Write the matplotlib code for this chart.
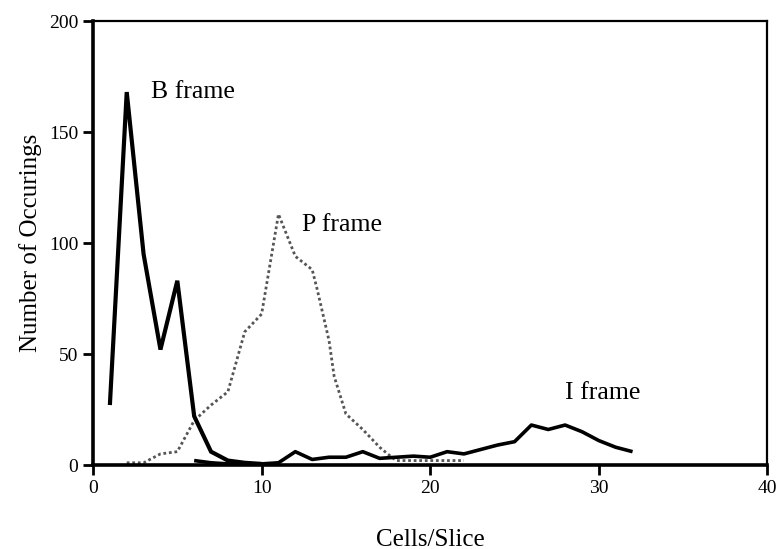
import matplotlib
matplotlib.use("Agg")
import matplotlib.pyplot as plt

plt.rcParams['font.family'] = ['Liberation Serif', 'DejaVu Serif']

# B frame
b_x = [1, 2, 3, 4, 5, 6, 7, 8, 9, 10]
b_y = [27, 168, 95, 52, 83, 22, 6, 2, 1, 0.5]

# P frame
p_x = [2, 3, 4, 5, 6, 7, 8, 9, 10, 11, 12, 13, 13.3, 14, 14.3, 15, 16, 17, 17.7, 18, 19, 20, 21, 22]
p_y = [1, 1, 5, 6, 20, 27, 33, 60, 68, 113, 94, 88, 79, 56, 40, 23, 16, 8, 3.6, 2, 2, 2, 2, 2]

# I frame
i_x = [6, 7, 8, 9, 10, 11, 12, 13, 14, 15, 16, 17, 18, 19, 20, 21, 22, 23, 24, 25, 26, 27, 28, 29, 30, 31, 32]
i_y = [2, 1, 0.5, 0.5, 0.5, 1, 6, 2.5, 3.5, 3.5, 6, 3, 3.5, 4, 3.5, 6, 5, 7, 9, 10.5, 18, 16, 18, 15, 11, 8, 6]

x_ticks = [0, 10, 20, 30, 40]
y_ticks = [0, 50, 100, 150, 200]

fig = plt.figure(figsize=(7.77, 5.49), dpi=100)
ax = fig.add_axes([0.1197, 0.153, 0.868, 0.8087])

ax.plot(p_x, p_y, color='#555555', lw=2.0, linestyle=(0, (1, 1)))
ax.plot(i_x, i_y, color='black', lw=2.6, solid_capstyle='butt')
ax.plot(b_x, b_y, color='black', lw=3.0, solid_capstyle='butt', solid_joinstyle='miter')

ax.set_xlim(0, 40)
ax.set_ylim(0, 200)
ax.set_xticks(x_ticks)
ax.set_yticks(y_ticks)
ax.tick_params(direction='out', length=7, width=2, labelsize=14)

for side in ['left', 'bottom']:
    ax.spines[side].set_linewidth(2.6)
for side in ['top', 'right']:
    ax.spines[side].set_linewidth(1.6)

ax.set_xlabel('Cells/Slice', fontsize=18, labelpad=23)
ax.set_ylabel('Number of Occurings', fontsize=18, labelpad=5)

ax.text(3.45, 168, 'B frame', fontsize=18.5, va='center', ha='left')
ax.text(12.4, 108, 'P frame', fontsize=18.5, va='center', ha='left')
ax.text(28.0, 32.5, 'I frame', fontsize=18.5, va='center', ha='left')

fig.savefig('out.png', dpi=100)
